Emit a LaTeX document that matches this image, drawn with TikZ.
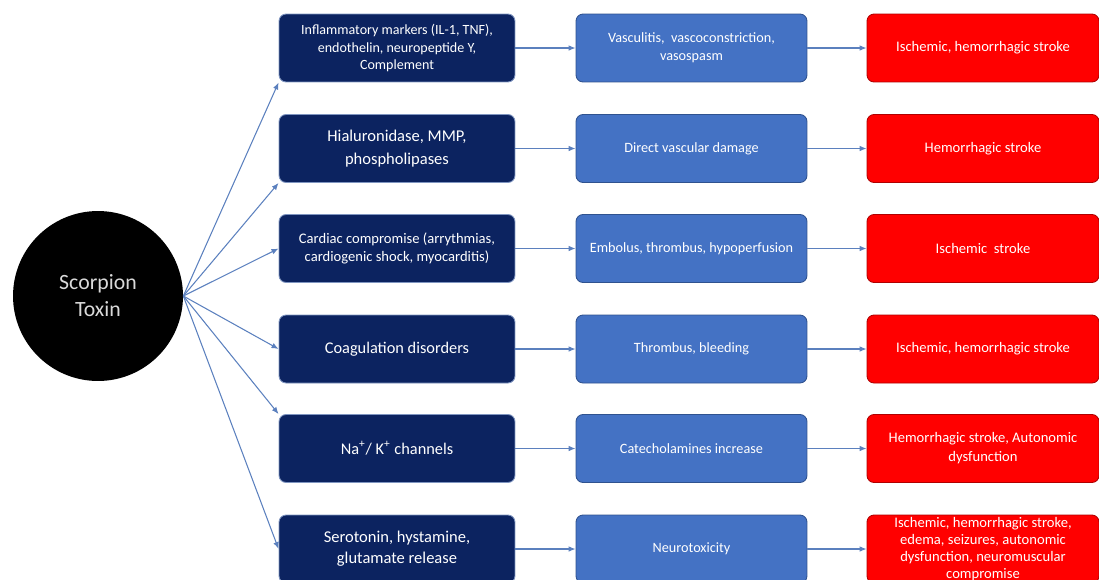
\documentclass[tikz,border=0pt]{standalone}
\usepackage{fontspec}
\setmainfont{Carlito}
\usetikzlibrary{arrows.meta,positioning}

\definecolor{navybox}{HTML}{0C2360}
\definecolor{navyline}{HTML}{7F95C0}
\definecolor{midblue}{HTML}{4472C4}
\definecolor{midline}{HTML}{2F528F}
\definecolor{redbox}{HTML}{FF0000}
\definecolor{redline}{HTML}{B00000}
\definecolor{linkblue}{HTML}{5B80BE}

\tikzset{
  toxin/.style={circle, fill=black, minimum size=3.4cm, align=center, text=black!15,
    font=\fontsize{12.4pt}{15.4pt}\selectfont},
  cause/.style={draw=navyline, line width=0.5pt, fill=navybox, rounded corners=4pt,
    minimum width=4.72cm, minimum height=1.36cm, align=center, text=white,
    font=\fontsize{9.3pt}{12.5pt}\selectfont},
  effect/.style={draw=midline, line width=0.5pt, fill=midblue, rounded corners=4pt,
    minimum width=4.62cm, minimum height=1.36cm, align=center, text=white,
    font=\fontsize{8.1pt}{10.2pt}\selectfont},
  outcome/.style={draw=redline, line width=0.5pt, fill=redbox, rounded corners=4pt,
    minimum width=4.64cm, minimum height=1.36cm, align=center, text=white,
    font=\fontsize{8.3pt}{10.8pt}\selectfont},
  link/.style={-{Latex[length=4pt,width=3.2pt]}, draw=linkblue, line width=0.6pt}
}

\begin{document}
\begin{tikzpicture}[x=0.02cm, y=-0.02cm]
    \useasboundingbox (0,0) rectangle (1099,579);
    \clip (0,0) rectangle (1099,579);

    \node[toxin] (toxin) at (98,296) {Scorpion\\Toxin};

    % first column: mechanisms
    \node[cause, font=\fontsize{8pt}{10.2pt}\selectfont] (m1) at (397,48) {Inflammatory markers (IL-1, TNF),\\endothelin, neuropeptide Y,\\Complement};
    \node[cause, font=\fontsize{9.4pt}{13pt}\selectfont] (m2) at (397,148.5) {Hialuronidase, MMP,\\phospholipases};
    \node[cause, font=\fontsize{8.3pt}{10.2pt}\selectfont] (m3) at (397,248.5) {Cardiac compromise (arrythmias,\\cardiogenic shock, myocarditis)};
    \node[cause] (m4) at (397,349) {Coagulation disorders};
    \node[cause] (m5) at (397,448.5) {Na\textsuperscript{+}/ K\textsuperscript{+} channels};
    \node[cause, font=\fontsize{9.4pt}{12pt}\selectfont] (m6) at (397,549) {Serotonin, hystamine,\\glutamate release};

    % second column
    \node[effect] (e1) at (691.5,48) {Vasculitis,\ \ vascoconstriction,\\vasospasm};
    \node[effect] (e2) at (691.5,148.5) {Direct vascular damage};
    \node[effect] (e3) at (691.5,248.5) {Embolus, thrombus, hypoperfusion};
    \node[effect] (e4) at (691.5,349) {Thrombus, bleeding};
    \node[effect] (e5) at (691.5,448.5) {Catecholamines increase};
    \node[effect] (e6) at (691.5,549) {Neurotoxicity};

    % third column: outcomes
    \node[outcome] (o1) at (983,48) {Ischemic, hemorrhagic stroke};
    \node[outcome] (o2) at (983,148.5) {Hemorrhagic stroke};
    \node[outcome] (o3) at (983,248.5) {Ischemic\ \ stroke};
    \node[outcome] (o4) at (983,349) {Ischemic, hemorrhagic stroke};
    \node[outcome] (o5) at (983,448.5) {Hemorrhagic stroke, Autonomic\\dysfunction};
    \node[outcome, inner sep=0pt, font=\fontsize{8.3pt}{9.7pt}\selectfont] (o6) at (983,549) {Ischemic, hemorrhagic stroke,\\edema, seizures, autonomic\\dysfunction, neuromuscular\\compromise};

    \draw[link] (toxin.east) -- (m1.south west);
    \draw[link] (toxin.east) -- (m2.south west);
    \draw[link] (toxin.east) -- (m3.west);
    \draw[link] (toxin.east) -- (m4.west);
    \draw[link] (toxin.east) -- (m5.north west);
    \draw[link] (toxin.east) -- (m6.west);

    \foreach \i in {1,...,6} {
        \draw[link] (m\i) -- (e\i);
        \draw[link] (e\i) -- (o\i);
    }
\end{tikzpicture}
\end{document}
